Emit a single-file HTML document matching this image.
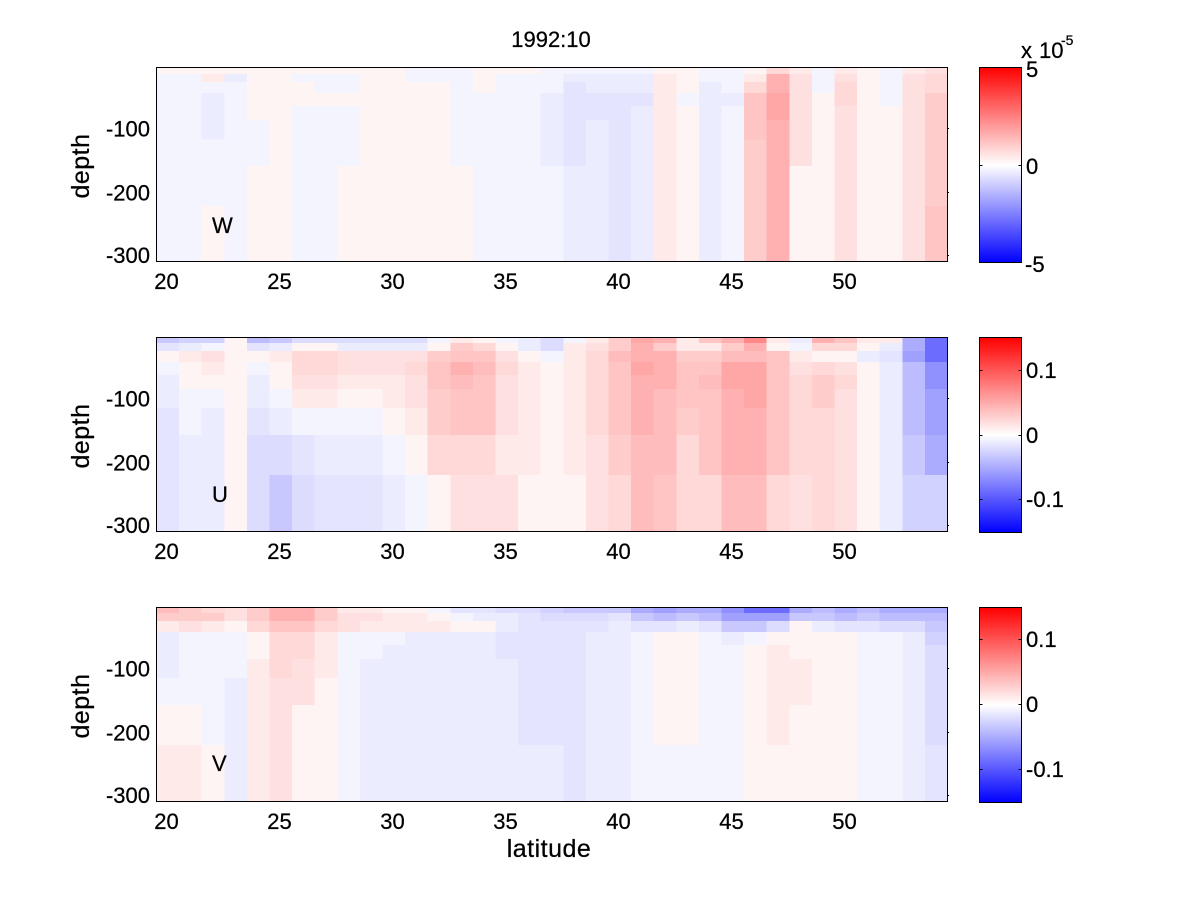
<!DOCTYPE html>
<html>
<head>
<meta charset="utf-8">
<style>
html,body{margin:0;padding:0;background:#fff;}
svg{display:block;}
text{font-family:"Liberation Sans",Arial,Helvetica,sans-serif;font-size:22px;fill:#000;stroke:#000;stroke-width:0.25px;}
.lab{font-size:25px;letter-spacing:0.5px;}
</style>
</head>
<body>
<svg id="s" xmlns="http://www.w3.org/2000/svg" width="1200" height="900" viewBox="0 0 1200 900">
<defs>
<linearGradient id="cb" x1="0" y1="0" x2="0" y2="1">
<stop offset="0" stop-color="#ff0000"/>
<stop offset="0.5" stop-color="#ffffff"/>
<stop offset="1" stop-color="#0000ff"/>
</linearGradient>
</defs>
<rect x="0" y="0" width="1200" height="900" fill="#fff"/>
<g id="cells" shape-rendering="crispEdges"></g>

<!-- axes frames -->
<g fill="none" stroke="#000" stroke-width="1" shape-rendering="crispEdges">
<rect x="156.5" y="67.5" width="791" height="194"/>
<rect x="156.5" y="337.5" width="791" height="194"/>
<rect x="156.5" y="607.5" width="791" height="194"/>
<path d="M947 128.5h2M947 192.5h2M947 255.5h2M947 398.5h2M947 462.5h2M947 525.5h2M947 668.5h2M947 732.5h2M947 795.5h2"/>
</g>

<!-- colorbars -->
<rect x="979.5" y="67.5" width="42" height="195" fill="url(#cb)"/>
<rect x="979.5" y="337.5" width="42" height="195" fill="url(#cb)"/>
<rect x="979.5" y="607.5" width="42" height="195" fill="url(#cb)"/>
<g fill="none" stroke="#000" stroke-width="1" shape-rendering="crispEdges">
<rect x="979.5" y="67.5" width="42" height="195"/>
<rect x="979.5" y="337.5" width="42" height="195"/>
<rect x="979.5" y="607.5" width="42" height="195"/>
<path d="M979.5 165.5h3M1018.5 165.5h3"/>
<path d="M979.5 370.5h3M1018.5 370.5h3M979.5 435.5h3M1018.5 435.5h3M979.5 499.5h3M1018.5 499.5h3"/>
<path d="M979.5 639.5h3M1018.5 639.5h3M979.5 704.5h3M1018.5 704.5h3M979.5 769.5h3M1018.5 769.5h3"/>
</g>

<!-- title -->
<text x="551" y="47" text-anchor="middle">1992:10</text>

<!-- y tick labels -->
<g text-anchor="end">
<text x="150" y="136.5">-100</text>
<text x="150" y="200.5">-200</text>
<text x="150" y="263">-300</text>
<text x="150" y="406.5">-100</text>
<text x="150" y="470.5">-200</text>
<text x="150" y="533">-300</text>
<text x="150" y="676.5">-100</text>
<text x="150" y="740.5">-200</text>
<text x="150" y="803">-300</text>
</g>

<!-- x tick labels -->
<g text-anchor="middle">
<text x="166.5" y="289">20</text>
<text x="279.5" y="289">25</text>
<text x="392.5" y="289">30</text>
<text x="505.5" y="289">35</text>
<text x="618.5" y="289">40</text>
<text x="731.5" y="289">45</text>
<text x="844.5" y="289">50</text>
<text x="166.5" y="559">20</text>
<text x="279.5" y="559">25</text>
<text x="392.5" y="559">30</text>
<text x="505.5" y="559">35</text>
<text x="618.5" y="559">40</text>
<text x="731.5" y="559">45</text>
<text x="844.5" y="559">50</text>
<text x="166.5" y="829">20</text>
<text x="279.5" y="829">25</text>
<text x="392.5" y="829">30</text>
<text x="505.5" y="829">35</text>
<text x="618.5" y="829">40</text>
<text x="731.5" y="829">45</text>
<text x="844.5" y="829">50</text>
</g>

<!-- axis labels -->
<text class="lab" x="549" y="857" text-anchor="middle">latitude</text>
<text class="lab" transform="translate(89,166) rotate(-90)" text-anchor="middle">depth</text>
<text class="lab" transform="translate(89,436) rotate(-90)" text-anchor="middle">depth</text>
<text class="lab" transform="translate(89,706) rotate(-90)" text-anchor="middle">depth</text>

<!-- panel labels -->
<text x="212" y="233">W</text>
<text x="212" y="502">U</text>
<text x="212" y="771">V</text>

<!-- colorbar labels -->
<text x="1026" y="77">5</text>
<text x="1026" y="174">0</text>
<text x="1025" y="272">-5</text>
<text x="1021" y="58">x</text>
<text x="1039" y="58">10</text>
<text x="1061" y="45" style="font-size:14px">-5</text>

<text x="1026" y="378">0.1</text>
<text x="1026" y="443">0</text>
<text x="1026" y="507">-0.1</text>

<text x="1026" y="647">0.1</text>
<text x="1026" y="712">0</text>
<text x="1026" y="777">-0.1</text>
</svg>
<script>
(function(){
var R={A:244,B:234,C:224,D:216,E:204,F:196,G:188,H:176,I:166,J:136,K:110};
var Bl={a:244,b:236,c:228,d:220,e:210,f:200,g:188,h:172,i:160,j:144,k:108};
var W=["Aaaaaaaaa","Aaaaaaaaa","ABabbbaaA","Abaaaaaaa","AAAAAaaAA","AAAAAAAAA","AaAAaaaaa","AaaAaaaaa","AaaAaaaAA","AAAAAAAAA","AAAAAAAAA","aaAAAAAAA","aaAAAAAAA","aaaaaaaAA","AAAaaaaaa","Aaaaaaaaa","Aaaaaaaaa","aaabbbbaa","abcccccbb","abbccbbbb","abbcccccc","abbcbbbbb","ABBBBBBBB","AAAaAAAAA","aabbbbbbb","aaabaaaaa","ABDFFFEEE","DHHIIHHHH","BCCCCCCAA","aaaAAAAAA","BCDDCCCCC","AAAAAAAAA","aaaaAAAAA","BCCCCCCCC","CDDEEEEEF"];
var U=["fcAabbccc","ebBAAaabb","eaCBAabbb","AAAAAAAAA","gcAabbcdd","fbBAAabdf","dADDCBacd","dADDCBabc","dbCCBAabc","dbCCBAabc","dbCCBBAab","dbCDCCBAa","aAEFFEEDA","BEFHGFFDC","ADFGFFFDC","aACDCCCBC","bbABBBBBA","ddaAAAAAA","aBBBBBBBA","BCDDDDDCC","EEGFFFFED","IHHIHHHGG","HEHHHGGGF","BBEFFFEDD","FBEFGFFFD","HEGIIHHHG","JHGIIIHHG","BAFFFFFFD","baBCDDDDC","HDADEEDDD","FDACDCCCC","BAbAAAAAA","Bbcbbbbbb","hhiggggfe","kkkjjiihe"];
var V=["GEBbbbaAB","EECaaaaAB","DEBaaaaaA","CCAaaabbb","EEDAABBBB","HHFDDDCCC","HHFDDCCAA","EEDBBBAAA","BCCaaaaaa","BCBaabbbb","ABBabbbbb","ABBbbbbbb","aABbbbbbb","caAbbbbbb","cbAbbbbbb","dbbccbbbb","dcccccccb","edccccccb","fdccccccc","fdcbbbbbb","fcbbbbbbb","hfcaaaaaa","igcAAAAAa","hfbAAAAAa","hgcaaaaaa","jifbaaaaa","kifaAAAAA","kidABBBBA","hfAAABBAA","gfbAAAAAA","hgcAAAAAA","gfcaaaaaa","hgdaaaaaa","hgdbbbbbb","hgfeddddc"];
var rW=[0,6.7,14.7,25.7,38.7,52.7,72,98.7,138.7,194];
var rUV=[0,5.3,13.3,24.7,37.7,51.7,70.5,97.7,137.5,194];
var P=[[67.5,rW,W],[337.5,rUV,U],[607.5,rUV,V]];
function col(ch){
  if(ch in R){var v=R[ch];return "rgb(255,"+v+","+v+")";}
  if(ch in Bl){var w=Bl[ch];return "rgb("+w+","+w+",255)";}
  return "#fff";
}
var g=document.getElementById("cells");
var ns="http://www.w3.org/2000/svg";
var x0=156.5,cw=22.6;
for(var p=0;p<3;p++){
  var top=P[p][0],rows=P[p][1],d=P[p][2];
  for(var k=0;k<35;k++){
    var s=d[k];
    for(var r=0;r<9;r++){
      var e=document.createElementNS(ns,"rect");
      var x=x0+cw*k, y=top+rows[r];
      e.setAttribute("x",x.toFixed(2));
      e.setAttribute("y",y.toFixed(2));
      e.setAttribute("width",(cw+0.6).toFixed(2));
      e.setAttribute("height",(rows[r+1]-rows[r]+0.6).toFixed(2));
      e.setAttribute("fill",col(s.charAt(r)));
      g.appendChild(e);
    }
  }
}
})();
</script>
</body>
</html>
